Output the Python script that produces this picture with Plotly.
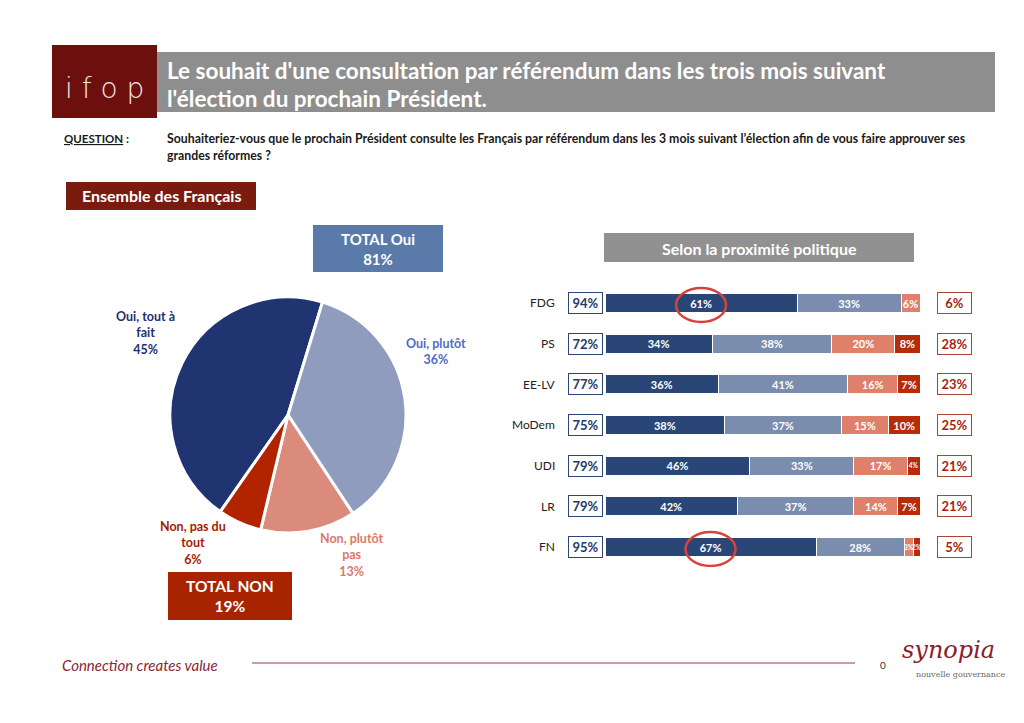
import plotly.graph_objects as go

W, H = 1024, 723

# ---------------- data ----------------
pie_labels = ["Oui, tout à fait", "Oui, plutôt", "Non, plutôt pas", "Non, pas du tout"]
pie_label_lines = ["Oui, tout à<br>fait", "Oui, plutôt", "Non, plutôt<br>pas", "Non, pas du<br>tout"]
pie_values = [45, 36, 13, 6]
total_oui = 81
total_non = 19

parties = ["FDG", "PS", "EE-LV", "MoDem", "UDI", "LR", "FN"]
oui_tout = [61, 34, 36, 38, 46, 42, 67]
oui_plutot = [33, 38, 41, 37, 33, 37, 28]
non_plutot = [6, 20, 16, 15, 17, 14, 3]
non_pas = [0, 8, 7, 10, 4, 7, 2]
total_oui_party = [94, 72, 77, 75, 79, 79, 95]
total_non_party = [6, 28, 23, 25, 21, 21, 5]
circled = ["FDG", "FN"]

title_lines = ["Le souhait d'une consultation par référendum dans les trois mois suivant",
               "l'élection du prochain Président."]
question_lines = ["Souhaiteriez-vous que le prochain Président consulte les Français par référendum dans les 3 mois suivant l’élection afin de vous faire approuver ses",
                  "grandes réformes ?"]

# ---------------- helpers ----------------
FONT = "Lato"


def fx(x):
    return x / W


def fy(y):
    return 1 - y / H


shapes = []
annotations = []


def rect(x0, y0, x1, y1, color):
    shapes.append(dict(type="rect", xref="paper", yref="paper",
                       x0=fx(x0), x1=fx(x1), y0=fy(y1), y1=fy(y0),
                       fillcolor=color, line=dict(width=0), layer="below"))


def text(x, y, t, size=12, color="#222", xanchor="center", bold=False, family=FONT, weight=None):
    if bold:
        t = "<b>" + t + "</b>"
    f = dict(family=family, size=size, color=color)
    if weight:
        f["weight"] = weight
    annotations.append(dict(xref="paper", yref="paper", x=fx(x), y=fy(y), text=t,
                            showarrow=False, xanchor=xanchor, yanchor="middle", font=f))


fig = go.Figure()

# ---------------- pie ----------------
pie_colors = ["#1f3470", "#8f9cbe", "#da8b7c", "#b22300"]
fig.add_trace(go.Pie(
    values=pie_values, labels=pie_labels, sort=False, direction="clockwise",
    rotation=215, textinfo="none", hoverinfo="label+percent",
    marker=dict(colors=pie_colors, line=dict(color="white", width=3)),
    domain=dict(x=[fx(170), fx(406)], y=[fy(533), fy(297)]),
    showlegend=False,
))

pie_label_colors = ["#1e2f6e", "#4f6bc4", "#e07868", "#a81a00"]
pie_label_pos = [(145, 333), (436, 351), (352, 555), (193, 543)]
for lbl, v, c, (px, py) in zip(pie_label_lines, pie_values, pie_label_colors, pie_label_pos):
    text(px, py, f"{lbl}<br>{v}%", size=12.5, color=c, bold=True)

# ---------------- stacked bars ----------------
series = [(oui_tout, "#2a4677"), (oui_plutot, "#7a8daf"),
          (non_plutot, "#df806b"), (non_pas, "#b62b08")]
for vals, col in series:
    fig.add_trace(go.Bar(
        y=parties, x=vals, orientation="h", width=0.47,
        marker=dict(color=col, line=dict(color="white", width=1)),
        text=[f"{v}%" if v else "" for v in vals],
        textposition="inside", insidetextanchor="middle", textangle=0,
        constraintext="none",
        textfont=dict(family=FONT, size=[11 if v >= 5 else 6.5 for v in vals],
                      color="white", weight="bold"),
        showlegend=False, hoverinfo="x+y",
    ))

row_top, row_bot = 303, 547
step = (row_bot - row_top) / (len(parties) - 1)
fig.update_layout(
    barmode="stack",
    xaxis=dict(domain=[fx(605), fx(920)], range=[0, 100], visible=False, fixedrange=True),
    yaxis=dict(domain=[fy(row_bot + step / 2), fy(row_top - step / 2)],
               categoryorder="array", categoryarray=parties,
               range=[len(parties) - 0.5, -0.5], visible=False, fixedrange=True),
)

for i, p in enumerate(parties):
    annotations.append(dict(xref="paper", yref="y", x=fx(557), y=i, text=p,
                            showarrow=False, xanchor="right", yanchor="middle",
                            font=dict(family=FONT, size=12, color="#222")))
    annotations.append(dict(xref="paper", yref="y", x=fx(585.5), y=i,
                            text=f"<b>{total_oui_party[i]}%</b>", showarrow=False,
                            xanchor="center", yanchor="middle",
                            font=dict(family=FONT, size=13, color="#223a6b"),
                            bordercolor="#2a4677", borderwidth=1, borderpad=1,
                            width=31, height=18, bgcolor="white"))
    annotations.append(dict(xref="paper", yref="y", x=fx(954.5), y=i,
                            text=f"<b>{total_non_party[i]}%</b>", showarrow=False,
                            xanchor="center", yanchor="middle",
                            font=dict(family=FONT, size=13, color="#a81f0f"),
                            bordercolor="#a94436", borderwidth=1, borderpad=1,
                            width=31, height=18, bgcolor="white"))

for p in circled:
    i = parties.index(p)
    shapes.append(dict(type="circle", xref="x", yref="y",
                       xsizemode="pixel", ysizemode="pixel",
                       xanchor=oui_tout[i] / 2, yanchor=i,
                       x0=-25, x1=25, y0=-19, y1=15,
                       line=dict(color="#d8423a", width=2.5)))

# ---------------- header ----------------
rect(52, 52, 995, 112, "#8e8e8e")
rect(52, 45, 157, 118, "#6d0f0c")
text(104, 88, "i f o p", size=28, color="#f3e6e4", family="DejaVu Sans", weight=300)
text(165, 71, title_lines[0], size=22.5, color="white", xanchor="left", bold=True)
text(165, 99, title_lines[1], size=22.5, color="white", xanchor="left", bold=True)

text(62, 138, "<u>QUESTION</u> :", size=11.5, color="#1a1a1a", xanchor="left", bold=True)
text(165, 138, question_lines[0], size=12.3, color="#1a1a1a", xanchor="left", bold=True)
text(165, 155, question_lines[1], size=12.3, color="#1a1a1a", xanchor="left", bold=True)

# ---------------- boxes ----------------
rect(66, 182, 256, 210, "#7a1b10")
text(161, 196, "Ensemble des Français", size=16, color="white", bold=True)

rect(313, 225, 443, 272, "#5a7aaa")
text(378, 249, f"TOTAL Oui<br>{total_oui}%", size=15, color="white", bold=True)

rect(168, 572, 292, 620, "#a82400")
text(230, 596, f"TOTAL NON<br>{total_non}%", size=15.5, color="white", bold=True)

rect(604, 233, 914, 262, "#919191")
text(759, 248, "Selon la proximité politique", size=16, color="white", bold=True)

# ---------------- footer ----------------
text(60, 665, "<i>Connection creates value</i>", size=15, color="#8b2535", xanchor="left")
shapes.append(dict(type="line", xref="paper", yref="paper", x0=fx(252), x1=fx(855),
                   y0=fy(663), y1=fy(663), line=dict(color="#9b3a48", width=1)))
text(883, 665, "0", size=10, color="#333")
text(948, 650, "<i>synopia</i>", size=24, color="#8e1b2c", family="DejaVu Serif")
text(960, 674, "nouvelle gouvernance", size=8, color="#666", family="DejaVu Serif")

fig.update_layout(
    width=W, height=H, margin=dict(l=0, r=0, t=0, b=0),
    paper_bgcolor="white", plot_bgcolor="white",
    shapes=shapes, annotations=annotations, showlegend=False,
    font=dict(family=FONT),
)

fig.write_html("out.html", config={"displayModeBar": False},
               post_script="document.body.style.margin='0px';")
